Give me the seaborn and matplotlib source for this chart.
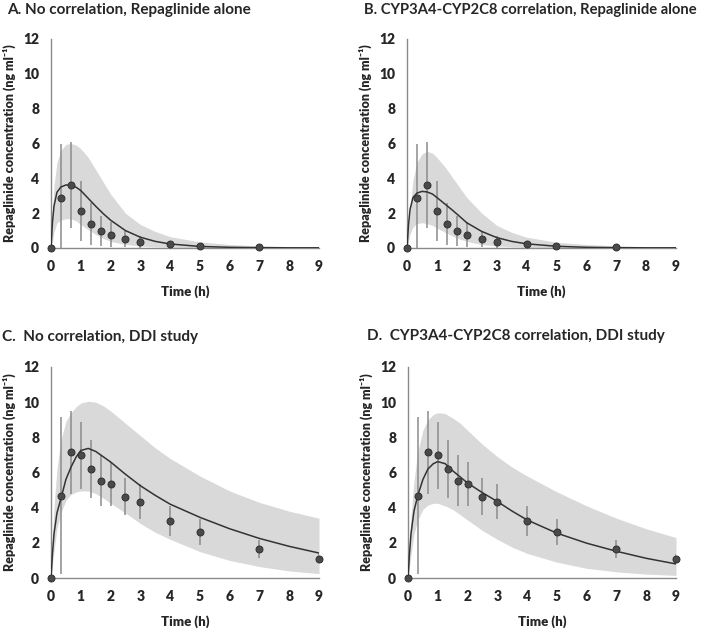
import matplotlib
matplotlib.use("Agg")
import matplotlib.pyplot as plt
import seaborn as sns
import pandas as pd

# ---------------- data ----------------
obs_time_alone = [0, 0.33, 0.67, 1, 1.33, 1.67, 2, 2.5, 3, 4, 5, 7]
obs_conc_alone = [0, 2.87, 3.61, 2.12, 1.38, 0.96, 0.75, 0.50, 0.34, 0.21, 0.13, 0.06]
obs_sd_alone = [0, 3.10, 2.47, 1.73, 1.23, 0.85, 0.72, 0.45, 0.35, 0.15, 0.08, 0.03]

obs_time_ddi = [0, 0.33, 0.67, 1, 1.33, 1.67, 2, 2.5, 3, 4, 5, 7, 9]
obs_conc_ddi = [0, 4.69, 7.16, 6.97, 6.19, 5.52, 5.33, 4.63, 4.34, 3.22, 2.63, 1.64, 1.10]
obs_sd_ddi = [0, 4.47, 2.36, 1.92, 1.63, 1.45, 1.25, 1.06, 1.00, 0.85, 0.75, 0.52, 0.27]

sim_time = [0, 0.05, 0.1, 0.2, 0.33, 0.5, 0.67, 0.85, 1, 1.25, 1.5, 1.75, 2,
            2.5, 3, 3.5, 4, 5, 6, 7, 8, 9]

sim_med_A = [0, 1.5, 2.4, 3.2, 3.5, 3.62, 3.6, 3.48, 3.3, 2.85, 2.4, 1.98, 1.6,
             1.0, 0.62, 0.38, 0.23, 0.09, 0.04, 0.02, 0.01, 0.01]
sim_hi_A = [0, 2.0, 3.6, 4.9, 5.6, 5.95, 6.0, 5.9, 5.7, 5.2, 4.5, 3.8, 3.1,
            2.0, 1.35, 0.95, 0.65, 0.35, 0.2, 0.12, 0.08, 0.05]
sim_lo_A = [0, 0.4, 0.9, 1.45, 1.6, 1.68, 1.68, 1.55, 1.35, 1.05, 0.78, 0.55, 0.38,
            0.2, 0.11, 0.07, 0.04, 0.02, 0.01, 0.01, 0.0, 0.0]

sim_med_B = [0, 1.3, 2.2, 2.9, 3.15, 3.25, 3.22, 3.1, 2.9, 2.55, 2.2, 1.83, 1.45,
             0.95, 0.6, 0.38, 0.24, 0.1, 0.04, 0.02, 0.01, 0.01]
sim_hi_B = [0, 1.0, 2.2, 3.9, 4.9, 5.4, 5.55, 5.45, 5.2, 4.7, 4.1, 3.5, 2.9,
            2.0, 1.3, 0.9, 0.62, 0.33, 0.2, 0.12, 0.08, 0.05]
sim_lo_B = [0, 0.4, 0.8, 1.2, 1.4, 1.45, 1.4, 1.3, 1.15, 0.92, 0.7, 0.52, 0.38,
            0.2, 0.12, 0.07, 0.04, 0.02, 0.01, 0.01, 0.0, 0.0]

sim_med_C = [0, 1.4, 2.5, 3.7, 4.5, 5.6, 6.3, 6.9, 7.25, 7.37, 7.2, 6.9, 6.6,
             5.9, 5.25, 4.7, 4.2, 3.45, 2.8, 2.25, 1.8, 1.42]
sim_hi_C = [0, 2.2, 4.0, 6.2, 7.8, 8.9, 9.4, 9.75, 9.95, 10.05, 10.0, 9.8, 9.5,
            8.8, 8.1, 7.4, 6.8, 5.8, 4.95, 4.3, 3.8, 3.4]
sim_lo_C = [0, 0.8, 1.5, 2.8, 3.7, 4.4, 4.75, 4.9, 4.95, 4.95, 4.8, 4.55, 4.25,
            3.7, 3.1, 2.6, 2.2, 1.5, 1.0, 0.65, 0.4, 0.25]

sim_med_D = [0, 1.4, 2.5, 3.8, 4.7, 5.6, 6.2, 6.5, 6.62, 6.5, 6.1, 5.75, 5.4,
             4.85, 4.35, 3.8, 3.3, 2.55, 1.98, 1.52, 1.12, 0.8]
sim_hi_D = [0, 2.0, 3.5, 5.5, 7.2, 8.4, 9.0, 9.3, 9.4, 9.35, 9.1, 8.8, 8.4,
            7.6, 6.9, 6.3, 5.8, 4.9, 4.1, 3.4, 2.8, 2.3]
sim_lo_D = [0, 0.6, 1.3, 2.5, 3.3, 3.9, 4.15, 4.25, 4.25, 4.1, 3.9, 3.6, 3.3,
            2.7, 2.2, 1.75, 1.4, 0.9, 0.55, 0.35, 0.22, 0.15]

titles = ["A. No correlation, Repaglinide alone",
          "B. CYP3A4-CYP2C8 correlation, Repaglinide alone",
          "C.  No correlation, DDI study",
          "D.  CYP3A4-CYP2C8 correlation, DDI study"]
x_ticks = [0, 1, 2, 3, 4, 5, 6, 7, 8, 9]
y_ticks = [0, 2, 4, 6, 8, 10, 12]
xlabel = "Time (h)"
ylabel = "Repaglinide concentration (ng ml\u207b\u00b9)"

# ---------------- style ----------------
sns.set_theme(style="white")
plt.rcParams["font.family"] = ["Lato", "DejaVu Sans"]
plt.rcParams["font.weight"] = "bold"

TXT = "#262626"
SPINE = "#8a8a8a"
BAND = "#d9d9d9"
LINE = "#333333"
ERR = "#8c8c8c"
PT = "#4a4a4a"

fig = plt.figure(figsize=(7.09, 6.30), dpi=100)

W, H = 709, 630
boxes = [(51, 39, 319, 248), (407, 39, 676, 248),
         (51, 367, 319, 578), (408, 367, 676, 578)]
title_pos = [(7, 10), (364, 10), (2, 337), (367, 336)]
title_size = [11, 10.6, 11, 11]

panels = [
    (obs_time_alone, obs_conc_alone, obs_sd_alone, sim_med_A, sim_hi_A, sim_lo_A),
    (obs_time_alone, obs_conc_alone, obs_sd_alone, sim_med_B, sim_hi_B, sim_lo_B),
    (obs_time_ddi, obs_conc_ddi, obs_sd_ddi, sim_med_C, sim_hi_C, sim_lo_C),
    (obs_time_ddi, obs_conc_ddi, obs_sd_ddi, sim_med_D, sim_hi_D, sim_lo_D),
]

for i, (ot, oc, osd, med, hi, lo) in enumerate(panels):
    x0, y0, x1, y1 = boxes[i]
    ax = fig.add_axes([x0 / W, 1 - y1 / H, (x1 - x0) / W, (y1 - y0) / H])
    sim_df = pd.DataFrame({"t": sim_time, "med": med, "hi": hi, "lo": lo})
    obs_df = pd.DataFrame({"t": ot, "c": oc, "sd": osd})

    ax.fill_between(sim_df["t"], sim_df["lo"], sim_df["hi"], color=BAND,
                    linewidth=0, zorder=1)
    ax.errorbar(obs_df["t"], obs_df["c"], yerr=obs_df["sd"], fmt="none",
                ecolor=ERR, elinewidth=1.1, capsize=0, zorder=2)
    sns.lineplot(data=sim_df, x="t", y="med", ax=ax, color=LINE,
                 linewidth=1.1, zorder=3, estimator=None, sort=False)
    sns.scatterplot(data=obs_df, x="t", y="c", ax=ax, color=PT, s=26,
                    edgecolor="#2a2a2a", linewidth=0.6, zorder=4, clip_on=False)

    ax.set_xlim(0, 9)
    ax.set_ylim(0, 12)
    ax.set_xticks(x_ticks)
    ax.set_yticks(y_ticks)
    ax.tick_params(axis="both", labelsize=10, colors=TXT, length=3.5,
                   width=0.8, direction="out", pad=5)
    ax.tick_params(axis="both", color=SPINE)
    for lab in ax.get_xticklabels() + ax.get_yticklabels():
        lab.set_fontweight("heavy")
    for s in ["top", "right"]:
        ax.spines[s].set_visible(False)
    for s in ["left", "bottom"]:
        ax.spines[s].set_color(SPINE)
        ax.spines[s].set_linewidth(1.0)
    ax.set_xlabel(xlabel, fontsize=9.5, fontweight="heavy", color=TXT, labelpad=9)
    ax.set_ylabel(ylabel, fontsize=9, fontweight="heavy", color=TXT, labelpad=5)

    tx, ty = title_pos[i]
    fig.text(tx / W, 1 - ty / H, titles[i], fontsize=title_size[i],
             fontweight="bold", color=TXT, ha="left", va="center")

fig.savefig("out.png", dpi=100, facecolor="white")
